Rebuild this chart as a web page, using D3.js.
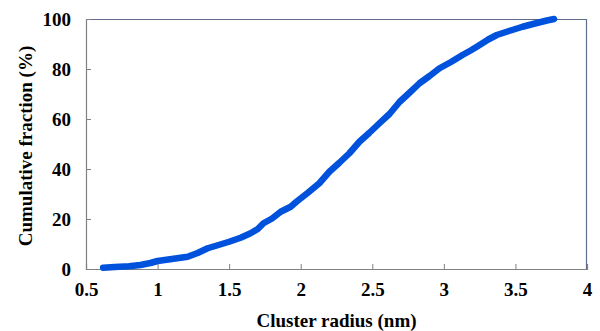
<!DOCTYPE html>
<html>
<head>
<meta charset="utf-8">
<script src="https://d3js.org/d3.v7.min.js"></script>
<style>
  body { margin: 0; background: #fff; }
  text { font-family: "Liberation Serif", "Times New Roman", serif; font-weight: bold; }
</style>
</head>
<body>
<div id="chart"></div>
<script>
// cumulative fraction vs cluster radius
var radius = [0.62, 0.70, 0.80, 0.88, 0.95, 1.00, 1.10, 1.21, 1.28, 1.35, 1.42, 1.50, 1.58, 1.65, 1.70,
    1.74, 1.80, 1.86, 1.93, 1.97, 2.05, 2.13, 2.20, 2.27, 2.34, 2.41, 2.48, 2.55, 2.62, 2.69,
    2.76, 2.83, 2.90, 2.97, 3.05, 3.13, 3.19, 3.25, 3.31, 3.37, 3.45, 3.55, 3.65, 3.72, 3.77];
var fraction = [0.5, 0.8, 1.1, 1.6, 2.4, 3.2, 4.0, 4.9, 6.4, 8.3, 9.5, 10.9, 12.5, 14.3, 16.0,
    18.3, 20.2, 22.9, 24.9, 26.9, 30.5, 34.3, 38.9, 42.5, 46.3, 50.9, 54.5, 58.3, 62.0, 66.8,
    70.5, 74.3, 77.2, 80.3, 82.8, 85.6, 87.5, 89.6, 91.8, 93.6, 95.1, 96.9, 98.4, 99.4, 100];
var xTicks = [0.5, 1, 1.5, 2, 2.5, 3, 3.5, 4];
var yTicks = [0, 20, 40, 60, 80, 100];

var chart = {
    width: 600,
    height: 331,
    margin: {top: 19, right: 13, bottom: 62, left: 86},
    stroke: '#0052dd',
    strokeWidth: 6.5,
    fontSize: '19px'
};

var data = radius.map(function(r, i) { return {radius: r, fraction: fraction[i]}; });

var svg = d3.select('#chart').append('svg')
    .attr('width', chart.width)
    .attr('height', chart.height);

var w = chart.width - chart.margin.left - chart.margin.right;
var h = chart.height - chart.margin.top - chart.margin.bottom;

var g = svg.append('g')
    .attr('transform', 'translate(' + chart.margin.left + ',' + chart.margin.top + ')');

var x = d3.scaleLinear().domain([0.5, 4]).range([0, w]);
var y = d3.scaleLinear().domain([0, 100]).range([h, 0]);

// top and right frame
g.append('path')
    .attr('d', 'M0,0.5H' + (w - 0.5) + 'V' + h)
    .attr('fill', 'none')
    .attr('stroke', '#5f6d8c')
    .attr('stroke-width', 1.2);

var xAxis = g.append('g')
    .attr('transform', 'translate(0,' + h + ')')
    .call(d3.axisBottom(x).tickValues(xTicks).tickSize(-5).tickPadding(14)
        .tickFormat(function(d) { return String(d); }));
var yAxis = g.append('g')
    .call(d3.axisLeft(y).tickValues(yTicks).tickSize(-5).tickPadding(15));

[xAxis, yAxis].forEach(function(a) {
    a.select('.domain').attr('stroke', '#808080').attr('stroke-width', 1.2);
    a.selectAll('.tick line').attr('stroke', '#808080');
    a.selectAll('text').attr('fill', '#000').style('font-size', chart.fontSize)
        .style('font-family', '"Liberation Serif", serif').style('font-weight', 'bold');
});
xAxis.selectAll('.tick').filter(function(d) { return d === 0.5 || d === 4; }).select('line').remove();
yAxis.selectAll('.tick').filter(function(d) { return d === 0 || d === 100; }).select('line').remove();

var line = d3.line()
    .x(function(d) { return x(d.radius); })
    .y(function(d) { return y(d.fraction); });

g.append('path')
    .datum(data)
    .attr('d', line)
    .attr('fill', 'none')
    .attr('stroke', chart.stroke)
    .attr('stroke-width', chart.strokeWidth)
    .attr('stroke-linecap', 'round')
    .attr('stroke-linejoin', 'round');

svg.append('text')
    .attr('x', chart.margin.left + w / 2)
    .attr('y', 327)
    .attr('text-anchor', 'middle')
    .style('font-size', chart.fontSize)
    .text('Cluster radius (nm)');

svg.append('text')
    .attr('transform', 'translate(32,' + (chart.margin.top + h / 2 + 2) + ') rotate(-90)')
    .attr('text-anchor', 'middle')
    .style('font-size', chart.fontSize)
    .text('Cumulative fraction (%)');
</script>
</body>
</html>
